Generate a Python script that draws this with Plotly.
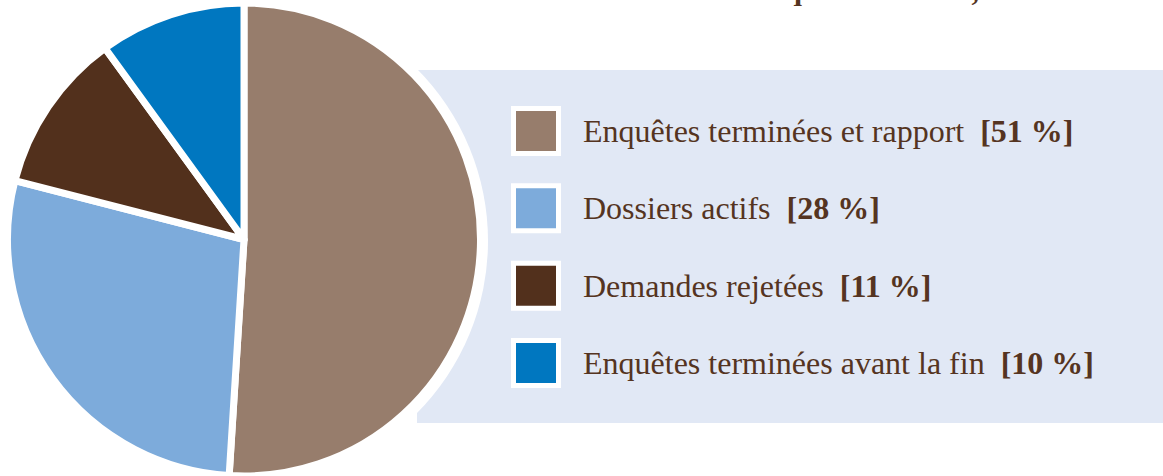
import plotly.graph_objects as go

# ---- data ----
labels = ["Enquêtes terminées et rapport", "Dossiers actifs",
          "Demandes rejetées", "Enquêtes terminées avant la fin"]
values = [51, 28, 11, 10]
colors = ["#977D6C", "#7DABDB", "#52301C", "#0077C0"]
title_text = "Total des demandes d'enquête à la CFP, 2011-2012"

W, H = 1163, 476
TXT = "#553421"
FONT = "Liberation Serif"

def px(x):
    return x / W

def py(y):
    return 1 - y / H

fig = go.Figure()
fig.add_trace(go.Pie(
    labels=labels, values=values, sort=False, direction="clockwise",
    rotation=0, marker=dict(colors=colors, line=dict(color="white", width=7)),
    textinfo="none", showlegend=False, hoverinfo="label+percent",
    domain=dict(x=[px(244 - 236.5), px(244 + 236.5)], y=[0, py(3)]),
))

shapes = [
    dict(type="rect", xref="paper", yref="paper", x0=px(417), x1=1.0,
         y0=py(423), y1=py(70), fillcolor="#E1E8F5", line=dict(width=0), layer="below"),
    dict(type="circle", xref="paper", yref="paper", x0=px(244 - 244), x1=px(244 + 244),
         y0=py(241 + 244), y1=py(241 - 244), fillcolor="white", line=dict(width=0), layer="below"),
]
annotations = []
step = 77.33
for i, (lab, val, col) in enumerate(zip(labels, values, colors)):
    cy = 131 + i * step
    shapes.append(dict(type="rect", xref="paper", yref="paper", x0=px(511), x1=px(561),
                       y0=py(cy + 25), y1=py(cy - 25), fillcolor="white",
                       line=dict(width=0), layer="below"))
    shapes.append(dict(type="rect", xref="paper", yref="paper", x0=px(516), x1=px(556),
                       y0=py(cy + 20), y1=py(cy - 20), fillcolor=col,
                       line=dict(width=0), layer="below"))
    annotations.append(dict(
        xref="paper", yref="paper", x=px(581), y=py(cy), xanchor="left", yanchor="middle",
        text=f"{lab} &nbsp;<b>[{val} %]</b>", showarrow=False,
        font=dict(family=FONT, size=32, color=TXT)))

annotations.append(dict(
    xref="paper", yref="paper", x=px(470), y=1, xanchor="left", yanchor="bottom",
    yshift=-8, text=f"<b>{title_text}</b>", showarrow=False,
    font=dict(family=FONT, size=30, color=TXT)))

fig.update_layout(
    width=W, height=H, margin=dict(l=0, r=0, t=0, b=0),
    paper_bgcolor="white", plot_bgcolor="white",
    shapes=shapes, annotations=annotations,
)
fig.write_html("out.html", config={"displayModeBar": False},
               post_script="document.body.style.margin='0';document.body.style.overflow='hidden';")
